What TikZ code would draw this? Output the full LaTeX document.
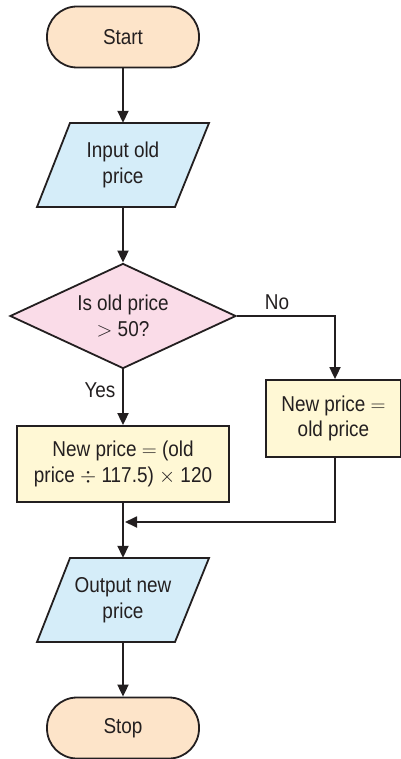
\documentclass[tikz,border=0pt]{standalone}
\usepackage{fontspec}
\setmainfont[FakeStretch=0.88]{Liberation Sans}
\usetikzlibrary{shapes.geometric,arrows.meta,calc}
\definecolor{ink}{HTML}{231F20}
\definecolor{termfill}{HTML}{FDE4C9}
\definecolor{iofill}{HTML}{D5EDF9}
\definecolor{decfill}{HTML}{FADCE8}
\definecolor{procfill}{HTML}{FFF8D5}
\begin{document}
\begin{tikzpicture}[x=1pt,y=-1pt,
  every node/.style={font=\fontsize{21.5}{25.7}\selectfont, text=ink, align=center},
  outline/.style={draw=ink, line width=1.8pt, line join=miter},
  terminal/.style={outline, fill=termfill, rectangle, rounded corners=30pt,
    minimum width=152pt, minimum height=61pt},
  iotext/.style={minimum width=140pt, minimum height=84pt, inner sep=0pt},
  iobox/.style={outline, fill=iofill},
  decision/.style={outline, fill=decfill, diamond, aspect=2.15, inner sep=0pt,
    minimum width=226pt, minimum height=105pt},
  process/.style={outline, fill=procfill, rectangle, inner sep=0pt},
  arr/.style={draw=ink, line width=1.8pt, -{Triangle[length=12pt,width=11pt]}},
  lbl/.style={inner sep=0pt}
]
\useasboundingbox (0,0) rectangle (400,759);

% start / stop terminals
\node[terminal] (start) at (123,37) {Start};

% input parallelogram
\draw[iobox] (70,123) -- (209,123) -- (175,207) -- (37,207) -- cycle;
\node[iotext] (in) at (123,165) {Input old\\price};

% decision
\node[decision] (dec) at (123,316) {Is old price\\$>$ 50?};

% processing boxes
\node[process, minimum width=212pt, minimum height=76pt] (calc) at (123,464)
  {New price $=$ (old\\price $\div$ 117.5) $\times$ 120};
\node[process, minimum width=135pt, minimum height=77pt] (same) at (333.5,418.5)
  {New price $=$\\old price};

% output parallelogram
\draw[iobox] (70,558) -- (209,558) -- (175,642) -- (37,642) -- cycle;
\node[iotext] (out) at (123,600) {Output new\\price};

\node[terminal] (stop) at (123,728) {Stop};

% connectors
\coordinate (nocorner) at (335,316);
\coordinate (join) at (125,522);
\draw[arr] (start) -- (in);
\draw[arr] (in) -- (dec);
\draw[arr] (dec.south) -- (calc.north);
\draw[arr] (dec.east) -- (nocorner) -- (nocorner |- same.north);
\draw[arr] (calc.south) -- (out.north);
\draw[arr] (nocorner |- same.south) |- (join);
\draw[arr] (out) -- (stop);

% branch labels
\node[lbl] (yes) at (100,390) {Yes};
\node[lbl] (no) at (277,302) {No};
\end{tikzpicture}
\end{document}
